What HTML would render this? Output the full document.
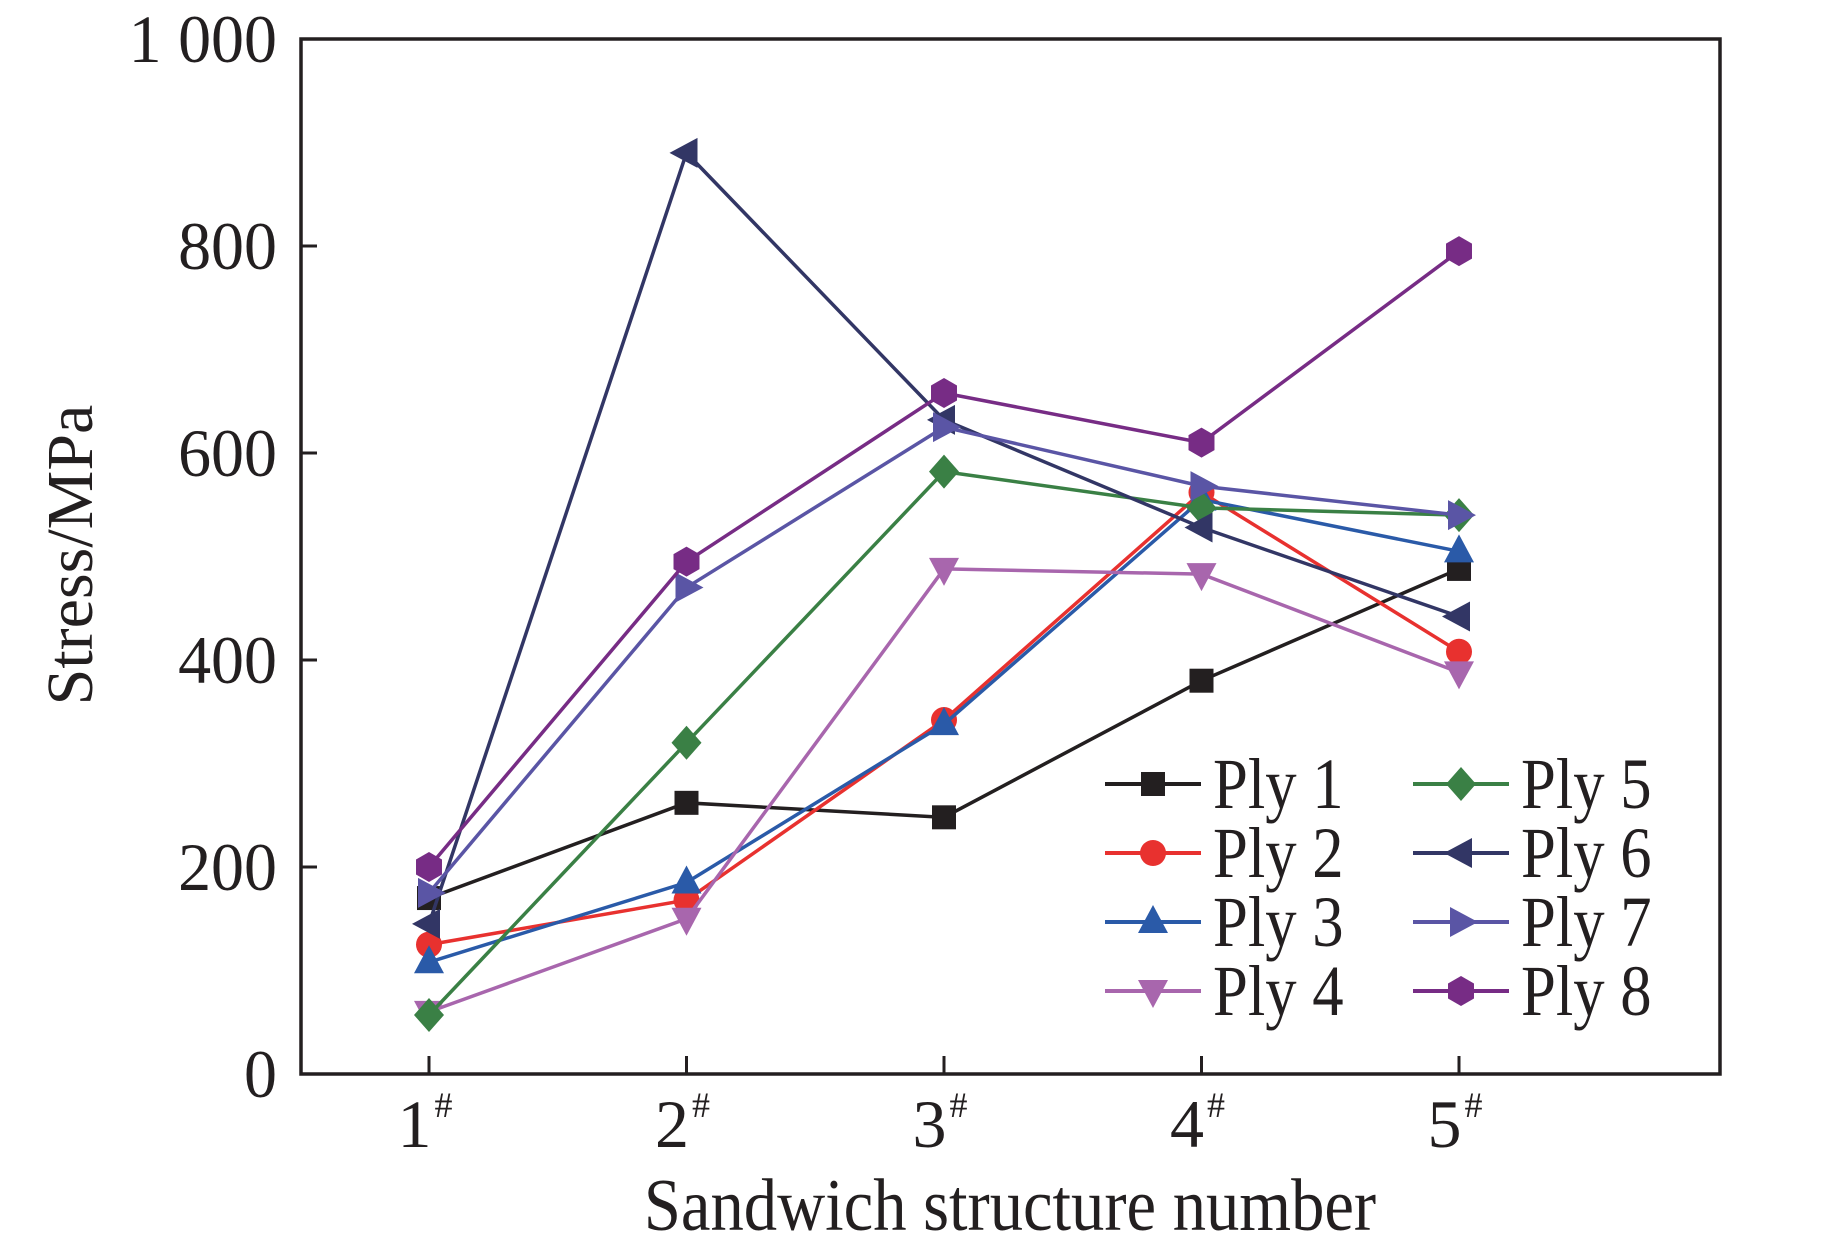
<!DOCTYPE html>
<html><head><meta charset="utf-8"><style>
html,body{margin:0;padding:0;background:#fff;}
svg{display:block;}
text{font-family:"Liberation Serif",serif;fill:#231f20;}
</style></head><body>
<svg id="chart" width="1843" height="1243" viewBox="0 0 1843 1243" xmlns="http://www.w3.org/2000/svg">
<g id="plot"></g>
</svg>
<script>
const categories = ["1", "2", "3", "4", "5"];
const yTicks = [0, 200, 400, 600, 800, 1000];
const yTickLabels = ["0", "200", "400", "600", "800", "1 000"];
const seriesNames = ["Ply 1","Ply 2","Ply 3","Ply 4","Ply 5","Ply 6","Ply 7","Ply 8"];
const ply1 = [170, 262, 248, 380, 488];
const ply2 = [125, 168, 342, 562, 408];
const ply3 = [108, 185, 338, 555, 505];
const ply4 = [60, 150, 488, 483, 388];
const ply5 = [57, 320, 582, 547, 540];
const ply6 = [145, 890, 632, 528, 442];
const ply7 = [175, 470, 625, 568, 540];
const ply8 = [200, 495, 658, 610, 795];
const seriesValues = [ply1, ply2, ply3, ply4, ply5, ply6, ply7, ply8];
const colors = ["#231f20","#e8312f","#2a5aa8","#a866ad","#3a8045","#323665","#5a55a5","#772c85"];
const markers = ["square","circle","up","down","diamond","left","right","hexagon"];

const L=301,R=1720,T=39,B=1074;
const NS="http://www.w3.org/2000/svg";
const svg=document.getElementById('chart');
function xPos(i){return 429+i*257.5;}
function yPos(v){return B-(v/1000)*(B-T);}
function mk(tag,attrs,parent){const e=document.createElementNS(NS,tag);for(const k in attrs)e.setAttribute(k,attrs[k]);(parent||svg).appendChild(e);return e;}

function marker(type,x,y,color,g){
  let e;
  if(type==="square") e=mk('rect',{x:x-12,y:y-12,width:24,height:24,fill:color},g);
  else if(type==="circle") e=mk('circle',{cx:x,cy:y,r:13,fill:color},g);
  else {
    let pts;
    if(type==="up") pts=[[x,y-17],[x+15,y+11],[x-15,y+11]];
    else if(type==="down") pts=[[x,y+17],[x+15,y-11],[x-15,y-11]];
    else if(type==="left") pts=[[x-17,y],[x+11,y-15],[x+11,y+15]];
    else if(type==="right") pts=[[x+17,y],[x-11,y-15],[x-11,y+15]];
    else if(type==="diamond") pts=[[x,y-17],[x+15,y],[x,y+17],[x-15,y]];
    else {pts=[];for(let k=0;k<6;k++){const a=Math.PI/6+k*Math.PI/3;pts.push([x+15*Math.cos(a),y+15*Math.sin(a)]);}}
    e=mk('polygon',{points:pts.map(p=>p.join(',')).join(' '),fill:color},g);
  }
  return e;
}

const frame=mk('rect',{x:L,y:T,width:R-L,height:B-T,fill:'none',stroke:'#231f20','stroke-width':3.5});



yTicks.forEach((v,i)=>{
  const y=yPos(v);
  const t=mk('line',{x1:L,x2:L+16,y1:y,y2:y,stroke:'#231f20','stroke-width':3});
  
  
  const lb=mk('text',{x:277,y:y+23,'text-anchor':'end','font-size':68,transform:`translate(277 0) scale(0.97 1) translate(-277 0)`});
  lb.textContent=yTickLabels[i];
  
  
});
categories.forEach((c,i)=>{
  const x=xPos(i);
  const t=mk('line',{x1:x,x2:x,y1:B,y2:B-18,stroke:'#231f20','stroke-width':3});
  
  
  const lb=mk('text',{x:x-4,y:1147,'text-anchor':'middle','font-size':68});
  lb.textContent=c;
  const sup=mk('tspan',{'font-size':36,dy:-30,dx:3},lb);
  sup.textContent='#';
  
  
});
const yt=mk('text',{x:0,y:0,'text-anchor':'middle','font-size':66,transform:'translate(92 555) rotate(-90)'});
yt.textContent='Stress/MPa';


const xt=mk('text',{x:1010,y:1230,'text-anchor':'middle','font-size':74,transform:'translate(1010 0) scale(0.9 1) translate(-1010 0)'});
xt.textContent='Sandwich structure number';



seriesValues.forEach((vals,si)=>{
  const g=mk('g',{});
  
  
  const pts=vals.map((v,i)=>xPos(i)+','+yPos(v)).join(' ');
  const pl=mk('polyline',{points:pts,fill:'none',stroke:colors[si],'stroke-width':3.5},g);
  
  
  vals.forEach((v,i)=>{
    const m=marker(markers[si],xPos(i),yPos(v),colors[si],g);
    
    
  });
});

const lg=mk('g',{});


seriesNames.forEach((n,si)=>{
  const col=Math.floor(si/4),row=si%4;
  const x0=col?1413:1105, y=784+row*69;
  const e=mk('g',{},lg);
  
  
  mk('line',{x1:x0,x2:x0+96,y1:y,y2:y,stroke:colors[si],'stroke-width':4},e);
  marker(markers[si],x0+48,y,colors[si],e);
  const tx=x0+108;
  const t=mk('text',{x:tx,y:y+24,'font-size':72,transform:`translate(${tx} 0) scale(0.87 1) translate(${-tx} 0)`},e);
  t.textContent=n;
});
</script>
</body></html>
